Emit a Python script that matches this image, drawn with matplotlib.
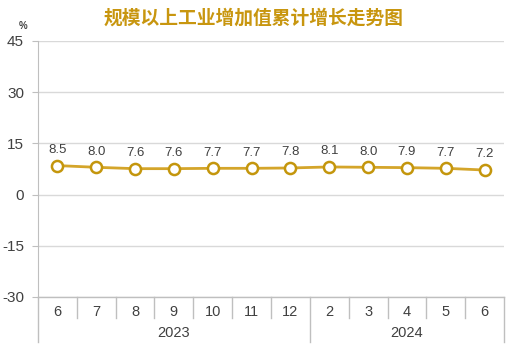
import matplotlib.pyplot as plt
import matplotlib.transforms as mtransforms

plt.rcParams['font.family'] = ['Noto Sans CJK SC', 'DejaVu Sans']

months = ['6', '7', '8', '9', '10', '11', '12', '2', '3', '4', '5', '6']
years = ['2023', '2024']
year_counts = [7, 5]
values = [8.5, 8.0, 7.6, 7.6, 7.7, 7.7, 7.8, 8.1, 8.0, 7.9, 7.7, 7.2]
yticks = [45, 30, 15, 0, -15, -30]

line_color = '#D4A52A'
edge_color = '#C4960C'
title_color = '#C8960F'
text_color = '#404040'
grid_color = '#D9D9D9'
num_font = 'Liberation Sans'

fig = plt.figure(figsize=(5.13, 3.56), dpi=100)
ax = fig.add_axes([38 / 513, 1 - 297 / 356, 466 / 513, 256 / 356])

x = list(range(len(values)))
ax.plot(x, values, color=line_color, lw=2, marker='o', ms=8,
        mfc='white', mec=edge_color, mew=1.8, zorder=3, clip_on=False)
for xi, v in zip(x, values):
    ax.annotate(f'{v:.1f}', (xi, v), xytext=(0, 7), textcoords='offset points',
                ha='center', va='bottom', fontsize=9.5, color=text_color,
                family=num_font)

ax.set_xlim(-0.5, len(values) - 0.5)
ax.set_ylim(-30, 45)
ax.set_yticks(yticks)
ax.set_yticklabels([str(t) for t in yticks], fontsize=11, color=text_color,
                   family=num_font)
ax.yaxis.grid(True, color=grid_color, lw=1)
ax.set_axisbelow(True)
ax.tick_params(axis='y', length=4, color='#BFBFBF', pad=6)
ax.set_xticks([])
for s in ['top', 'right', 'bottom']:
    ax.spines[s].set_visible(False)
ax.spines['left'].set_color('#BFBFBF')

# category axis below the plot
trans = mtransforms.blended_transform_factory(ax.transData, fig.transFigure)
y_axis = 1 - 297 / 356
y_month = 1 - 312 / 356
y_tick_end = 1 - 318 / 356
y_year = 1 - 333 / 356
y_year_end = 1 - 342 / 356
ax.plot([-0.5, len(values) - 0.5], [y_axis, y_axis], transform=trans,
        color='#BFBFBF', lw=1, clip_on=False)
for xi, m in zip(x, months):
    ax.text(xi, y_month, m, transform=trans, ha='center', va='center',
            fontsize=10.5, color=text_color, family=num_font)
for i in range(len(values) + 1):
    b = i - 0.5
    end = y_year_end if i in (0, year_counts[0], len(values)) else y_tick_end
    ax.plot([b, b], [y_axis, end], transform=trans, color='#BFBFBF', lw=1,
            clip_on=False)
start = 0
for yr, n in zip(years, year_counts):
    ax.text(start + (n - 1) / 2, y_year, yr, transform=trans, ha='center',
            va='center', fontsize=10.5, color=text_color, family=num_font)
    start += n

fig.text(254 / 513, 1 - 18 / 356, '规模以上工业增加值累计增长走势图', ha='center',
         va='center', fontsize=13.5, fontweight='bold', color=title_color)
fig.text(23 / 513, 1 - 26 / 356, '%', ha='center', va='center', fontsize=7,
         color=text_color, fontweight='bold', family=num_font)

fig.savefig('out.png', dpi=100)
